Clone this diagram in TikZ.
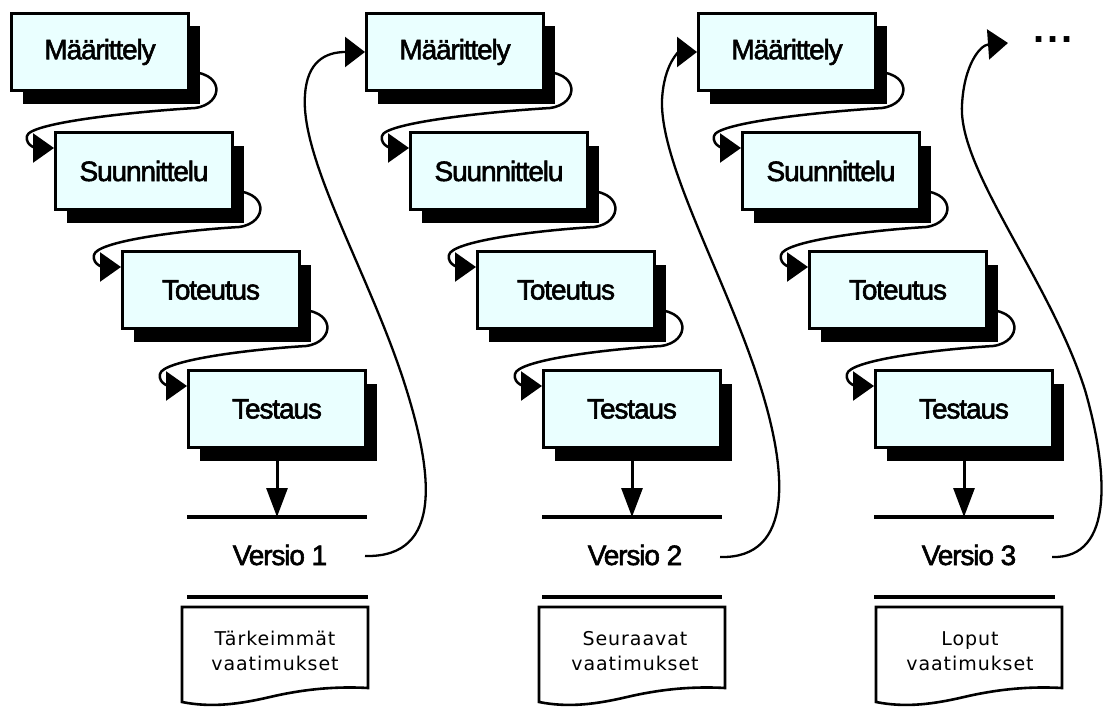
\documentclass[tikz,border=0pt]{standalone}
\usepackage{fontspec}
\setmainfont{Liberation Sans}
\newfontfamily\labelfont{Liberation Sans}[RawFeature={embolden=2}, LetterSpace=-4]
\newfontfamily\docfont{DejaVu Sans}[LetterSpace=5]
\usetikzlibrary{arrows.meta,shadows,calc,backgrounds}

\definecolor{boxfill}{RGB}{234,255,255}

\tikzset{
  phase/.style={draw, line width=3pt, fill=boxfill, minimum width=177pt,
    minimum height=77pt, inner sep=0pt, font=\labelfont\fontsize{28}{30}\selectfont,
    drop shadow={shadow xshift=11pt, shadow yshift=-13pt, fill=black, opacity=1}},
  flow/.style={line width=2.5pt, -{Triangle[length=21pt,width=29pt]}},
  ret/.style={line width=2.3pt, -{Triangle[length=20pt,width=30pt]}},
  down/.style={line width=3pt, -{Triangle[length=29pt,width=21pt]}},
  bar/.style={line width=4pt},
  verlabel/.style={font=\labelfont\fontsize{28}{30}\selectfont, inner sep=0pt},
  doc/.style={line width=2.6pt, fill=white},
  doclabel/.style={font=\docfont\fontsize{19}{25}\selectfont, align=center, inner sep=0pt},
}

% curled connector from the right side of one phase to the left side of the next
\newcommand\phaseflow[2]{%
  \draw[flow] ($(#1.north east)+(-5,60)$)
    .. controls ($(#1.north east)+(35,58)$) and ($(#1.north east)+(35,92)$) .. ($(#1.north east)+(5,96)$)
    .. controls ($(#1.north east)+(-60,100)$) and ($(#2.north west)+(-25,-8)$) .. ($(#2.north west)+(-27,5)$)
    .. controls ($(#2.north west)+(-29,16)$) and ($(#2.north west)+(-15,17)$) .. ($(#2.north west)+(0,17)$);}

% requirements document with a wavy lower edge
\newcommand\docshape[1]{%
  \draw[doc,shift={(#1,0)}] (0,607) -- (186,607) -- (186,688)
    .. controls (150,686) and (118,690) .. (88,697)
    .. controls (58,704) and (30,708) .. (0,702) -- cycle;}

\begin{document}
\begin{tikzpicture}[x=1pt,y=-1pt]
\useasboundingbox (0,0) rectangle (1109,709);
\begin{scope}[on background layer]
  \fill[white] (0,0) rectangle (1109,709);
\end{scope}

% iteration 1
\node[phase] (m1)  at (100,52)  {Määrittely};
\node[phase] (s1)  at (144,171) {Suunnittelu};
\node[phase] (to1) at (211,290) {Toteutus};
\node[phase] (te1) at (277,409) {Testaus};
% iteration 2
\node[phase] (m2)  at (455,52)  {Määrittely};
\node[phase] (s2)  at (499,171) {Suunnittelu};
\node[phase] (to2) at (566,290) {Toteutus};
\node[phase] (te2) at (632,409) {Testaus};
% iteration 3
\node[phase] (m3)  at (787,52)  {Määrittely};
\node[phase] (s3)  at (831,171) {Suunnittelu};
\node[phase] (to3) at (898,290) {Toteutus};
\node[phase] (te3) at (964,409) {Testaus};

% release bars
\coordinate (bar1) at (277,517);
\coordinate (bar2) at (632,517);
\coordinate (bar3) at (964,517);
\foreach \b in {bar1,bar2,bar3}
  \draw[bar] ($(\b)+(-90,0)$) -- ($(\b)+(90,0)$);
\draw[down] (te1.south) -- (bar1);
\draw[down] (te2.south) -- (bar2);
\draw[down] (te3.south) -- (bar3);

% version labels
\node[verlabel] (v1) at (280,555) {Versio 1};
\node[verlabel] (v2) at (635,555) {Versio 2};
\node[verlabel] (v3) at (969,555) {Versio 3};

% requirement documents
\draw[bar] (187,597) -- (368,597);
\draw[bar] (542,597) -- (722,597);
\draw[bar] (874,597) -- (1055,597);
\docshape{182}
\docshape{539}
\docshape{876}
\node[doclabel] (d1) at (275,651) {Tärkeimmät\\vaatimukset};
\node[doclabel] (d2) at (635,651) {Seuraavat\\vaatimukset};
\node[doclabel] (d3) at (970,651) {Loput\\vaatimukset};

% continuation
\node[font=\bfseries\fontsize{40}{40}\selectfont, anchor=base, inner sep=0pt] (more) at (1053,43) {.\kern3pt.\kern3pt.};
\coordinate (next) at (1008,43);
\coordinate (r1) at (365,556);
\coordinate (r2) at (720,557);
\coordinate (r3) at (1052,557);

\begin{scope}[on background layer]
  \phaseflow{m1}{s1}
  \phaseflow{s1}{to1}
  \phaseflow{to1}{te1}
  \phaseflow{m2}{s2}
  \phaseflow{s2}{to2}
  \phaseflow{to2}{te2}
  \phaseflow{m3}{s3}
  \phaseflow{s3}{to3}
  \phaseflow{to3}{te3}
  % feedback into the next iteration
  \draw[ret] (r1) .. controls (445,558) and (432,470) .. (405,385)
    .. controls (370,275) and (300,160) .. (305,95)
    .. controls (307,62) and (325,52) .. (m2.west);
  \draw[ret] (r2) .. controls (795,559) and (787,470) .. (760,385)
    .. controls (727,280) and (660,165) .. (662,100)
    .. controls (664,62) and (680,52) .. (m3.west);
  \draw[ret] (r3) .. controls (1115,559) and (1108,470) .. (1085,390)
    .. controls (1050,280) and (958,170) .. (962,105)
    .. controls (964,65) and (980,45) .. (next);
\end{scope}
\end{tikzpicture}
\end{document}
